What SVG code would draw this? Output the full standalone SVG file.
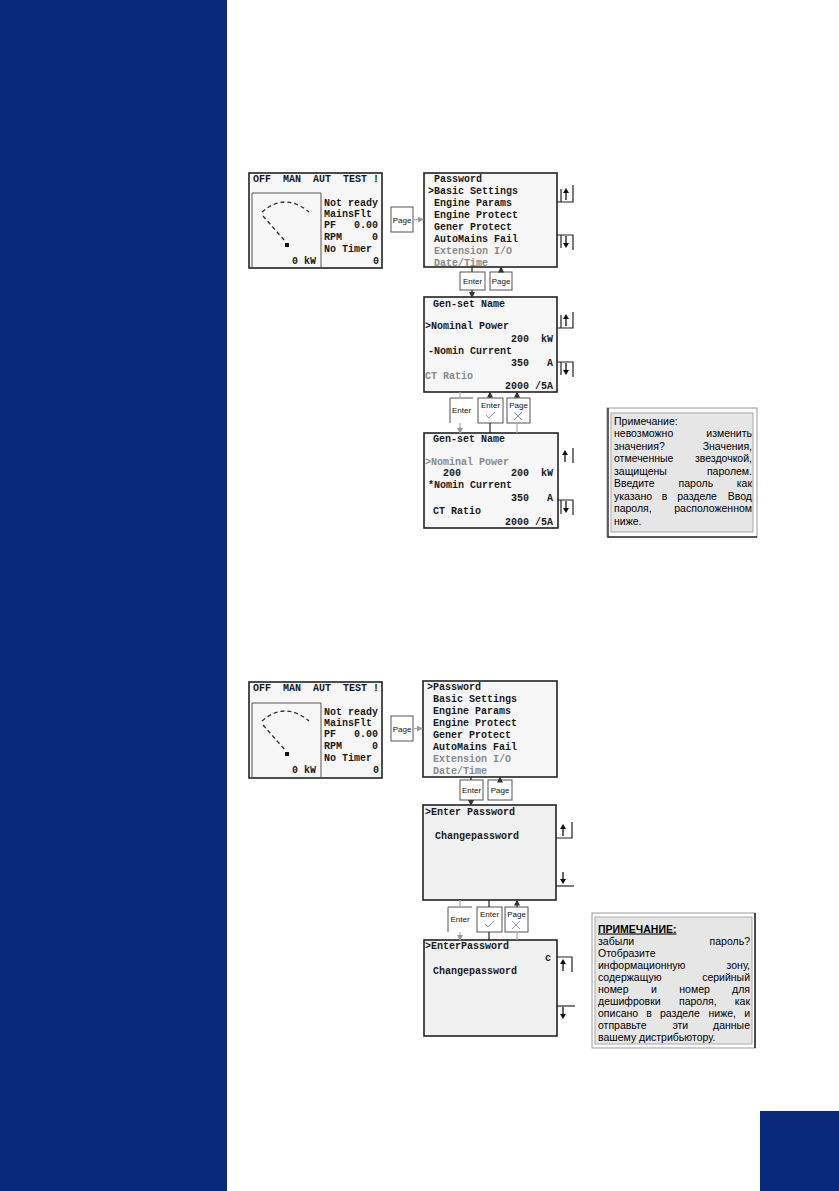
<svg xmlns="http://www.w3.org/2000/svg" width="839" height="1191" viewBox="0 0 839 1191">
<style>
.lcd{font-family:"Liberation Mono","DejaVu Sans Mono",monospace;font-size:10px;font-weight:bold;fill:#1a1a1a;white-space:pre}
.lcdg{font-family:"Liberation Mono","DejaVu Sans Mono",monospace;font-size:10px;font-weight:bold;fill:#8a8a8a;white-space:pre}
.btn{font-family:"Liberation Sans",Arial,sans-serif;font-size:8px;fill:#111}
.note{font-family:"Liberation Sans","DejaVu Sans",Arial,sans-serif;font-size:10.5px;fill:#000}
.e{text-anchor:end}
.scr{fill:#f7f7f7;stroke:#222;stroke-width:1.6}
.scr2{fill:#f0f0f0;stroke:#222;stroke-width:1.6}
.box{fill:#fff;stroke:#555;stroke-width:1}
.ln{stroke:#222;stroke-width:1.2;fill:none}
.lg{stroke:#aaa;stroke-width:1.2;fill:none}
.dash{stroke:#333;stroke-width:1.3;fill:none;stroke-dasharray:4 3}
</style>
<defs>
<marker id="ah" viewBox="0 0 6 6" refX="5" refY="3" markerWidth="5" markerHeight="5" orient="auto">
<path d="M0,0 L6,3 L0,6 Z" fill="#333"/>
</marker>
<marker id="ahg" viewBox="0 0 6 6" refX="5" refY="3" markerWidth="5" markerHeight="5" orient="auto">
<path d="M0,0 L6,3 L0,6 Z" fill="#999"/>
</marker>
<g id="arrUp"><path d="M0,-6 L3,-1 L-3,-1 Z" fill="#111"/><path d="M0,-1 V6" stroke="#111" stroke-width="1.3"/></g>
<g id="arrDown"><path d="M0,6 L3,1 L-3,1 Z" fill="#111"/><path d="M0,1 V-6" stroke="#111" stroke-width="1.3"/></g>
</defs>

<rect x="0" y="0" width="227" height="1191" fill="#0a297a"/>
<rect x="760" y="1111" width="79" height="80" fill="#0a297a"/>

<!-- top main screen -->
<g id="main1">
<rect class="scr" x="249" y="173" width="133" height="95"/>
<text class="lcd" x="253" y="182">OFF  MAN  AUT  TEST !</text>
<path d="M252,268 V193 H321 V268" fill="none" stroke="#555" stroke-width="1"/>
<path class="dash" d="M262,212 Q285,192 309,212"/>
<path class="dash" d="M263,216 L285,241"/>
<rect x="285" y="243" width="4" height="4" fill="#111"/>
<text class="lcd" x="292" y="264">0 kW</text>
<text class="lcd" x="324" y="206">Not ready</text>
<text class="lcd" x="324" y="217">MainsFlt</text>
<text class="lcd" x="324" y="228">PF   0.00</text>
<text class="lcd" x="324" y="240">RPM     0</text>
<text class="lcd" x="324" y="252">No Timer</text>
<text class="lcd" x="379" y="264" text-anchor="end">0</text>
</g>

<g id="page1">
<rect class="box" x="391" y="207" width="22" height="25"/>
<text class="btn" x="402" y="222.5" text-anchor="middle">Page</text>
</g>

<g id="menu1">
<rect class="scr" x="424" y="173" width="133" height="94"/>
<text class="lcd" x="428" y="181.5"> Password</text>
<text class="lcd" x="428" y="193.5">&gt;Basic Settings</text>
<text class="lcd" x="428" y="205.5"> Engine Params</text>
<text class="lcd" x="428" y="217.5"> Engine Protect</text>
<text class="lcd" x="428" y="229.5"> Gener Protect</text>
<text class="lcd" x="428" y="241.5"> AutoMains Fail</text>
<text class="lcdg" x="428" y="253.5"> Extension I/O</text>
<text class="lcdg" x="428" y="265.5"> Date/Time</text>
<path class="ln" d="M557,202 H573 V185 M561,189 V202"/>
<use href="#arrUp" x="566" y="194"/>
<path class="ln" d="M557,235 H573 V250 M561,235 V248"/>
<use href="#arrDown" x="566" y="242"/>
</g>

<g id="enter1">
<rect class="box" x="460" y="272" width="25" height="18"/>
<text class="btn" x="472.5" y="284" text-anchor="middle">Enter</text>
</g>
<g id="pageA">
<rect class="box" x="490" y="272" width="22" height="18"/>
<text class="btn" x="501" y="284" text-anchor="middle">Page</text>
</g>

<g id="screen2">
<rect class="scr" x="424" y="297" width="133" height="95"/>
<text class="lcd" x="433" y="306.5">Gen-set Name</text>
<text class="lcd" x="425" y="328.5">&gt;Nominal Power</text>
<text class="lcd" x="553" y="341.5" text-anchor="end">200  kW</text>
<text class="lcd" x="428" y="353.5">-Nomin Current</text>
<text class="lcd" x="553" y="366" text-anchor="end">350   A</text>
<text class="lcdg" x="425" y="378.5">CT Ratio</text>
<text class="lcd" x="553" y="388.5" text-anchor="end">2000 /5A</text>
<path class="ln" d="M557,328 H573 V312 M561,315 V328"/>
<use href="#arrUp" x="566" y="320"/>
<path class="ln" d="M557,362 H573 V377 M561,362 V375"/>
<use href="#arrDown" x="566" y="369"/>
</g>

<g id="enter2">
<path d="M450,423 V398 H473" fill="none" stroke="#555" stroke-width="1"/>
<text class="btn" x="461.5" y="413" text-anchor="middle">Enter</text>
</g>
<g id="enterOk1">
<rect class="box" x="478" y="398" width="25" height="25"/>
<text class="btn" x="490.5" y="408" text-anchor="middle">Enter</text>
<path d="M486,415 L489,418 L495,412" fill="none" stroke="#999" stroke-width="1"/>
</g>
<g id="pageX1">
<rect class="box" x="507" y="398" width="23" height="25"/>
<text class="btn" x="518.5" y="408" text-anchor="middle">Page</text>
<path d="M514,412 L522,420 M522,412 L514,420" fill="none" stroke="#999" stroke-width="1"/>
</g>

<g id="screen3">
<rect class="scr" x="424" y="433" width="134" height="95"/>
<text class="lcd" x="433" y="441.5">Gen-set Name</text>
<text class="lcdg" x="425" y="465">&gt;Nominal Power</text>
<text class="lcd" x="443" y="476">200</text>
<text class="lcd" x="553" y="476" text-anchor="end">200  kW</text>
<text class="lcd" x="428" y="487.5">*Nomin Current</text>
<text class="lcd" x="553" y="501" text-anchor="end">350   A</text>
<text class="lcd" x="433" y="514">CT Ratio</text>
<text class="lcd" x="553" y="525" text-anchor="end">2000 /5A</text>
<path class="ln" d="M573,448 V463"/>
<use href="#arrUp" x="565" y="456"/>
<path class="ln" d="M558,500 H573 V515 M561,500 V514"/>
<use href="#arrDown" x="566" y="507"/>
</g>

<g id="note1">
<rect x="607" y="408" width="150" height="129" fill="#fff" stroke="#999" stroke-width="1"/>
<path d="M608,408 V537 H757" fill="none" stroke="#333" stroke-width="1.5"/>
<rect x="611" y="413" width="142" height="119" fill="#e6e6e6" stroke="#aaa" stroke-width="1"/>
<text class="note" x="614" y="424.5">Примечание:</text>
<text class="note" y="437"><tspan x="614">невозможно</tspan><tspan class="e" x="752">изменить</tspan></text>
<text class="note" y="449.5"><tspan x="614">значения?</tspan><tspan class="e" x="752">Значения,</tspan></text>
<text class="note" y="462"><tspan x="614">отмеченные</tspan><tspan class="e" x="752">звездочкой,</tspan></text>
<text class="note" y="474.5"><tspan x="614">защищены</tspan><tspan class="e" x="752">паролем.</tspan></text>
<text class="note" y="487"><tspan x="614">Введите</tspan><tspan x="678.6">пароль</tspan><tspan class="e" x="752">как</tspan></text>
<text class="note" y="499.5"><tspan x="614">указано</tspan><tspan x="661.8">в</tspan><tspan x="677.2">разделе</tspan><tspan class="e" x="752">Ввод</tspan></text>
<text class="note" y="512"><tspan x="614">пароля,</tspan><tspan class="e" x="752">расположенном</tspan></text>
<text class="note" x="614" y="524.5">ниже.</text>
</g>

<!-- bottom section -->
<g id="main2">
<rect class="scr" x="249" y="682" width="133" height="96"/>
<text class="lcd" x="253" y="691">OFF  MAN  AUT  TEST !</text>
<path d="M252,778 V703 H321 V778" fill="none" stroke="#555" stroke-width="1"/>
<path class="dash" d="M262,721 Q285,701 309,721"/>
<path class="dash" d="M263,725 L285,750"/>
<rect x="285" y="752" width="4" height="4" fill="#111"/>
<text class="lcd" x="292" y="773">0 kW</text>
<text class="lcd" x="324" y="715">Not ready</text>
<text class="lcd" x="324" y="726">MainsFlt</text>
<text class="lcd" x="324" y="737">PF   0.00</text>
<text class="lcd" x="324" y="749">RPM     0</text>
<text class="lcd" x="324" y="761">No Timer</text>
<text class="lcd" x="379" y="773" text-anchor="end">0</text>
</g>

<g id="page2">
<rect class="box" x="391" y="716" width="22" height="25"/>
<text class="btn" x="402" y="731.5" text-anchor="middle">Page</text>
</g>

<g id="menu2">
<rect class="scr" x="423" y="681" width="134" height="96"/>
<text class="lcd" x="427" y="689.5">&gt;Password</text>
<text class="lcd" x="427" y="701.5"> Basic Settings</text>
<text class="lcd" x="427" y="713.5"> Engine Params</text>
<text class="lcd" x="427" y="725.5"> Engine Protect</text>
<text class="lcd" x="427" y="737.5"> Gener Protect</text>
<text class="lcd" x="427" y="749.5"> AutoMains Fail</text>
<text class="lcdg" x="427" y="761.5"> Extension I/O</text>
<text class="lcdg" x="427" y="773.5"> Date/Time</text>
</g>

<g id="enter3">
<rect class="box" x="460" y="780" width="23" height="20"/>
<text class="btn" x="471.5" y="793" text-anchor="middle">Enter</text>
</g>
<g id="pageB">
<rect class="box" x="488" y="780" width="24" height="20"/>
<text class="btn" x="500" y="793" text-anchor="middle">Page</text>
</g>

<g id="screen4">
<rect class="scr2" x="423" y="805" width="133" height="95"/>
<text class="lcd" x="425" y="814.5">&gt;Enter Password</text>
<text class="lcd" x="435" y="838.5">Changepassword</text>
<path class="ln" d="M556,838 H572 V822"/>
<use href="#arrUp" x="563" y="830"/>
<path class="ln" d="M556,886 H574"/>
<use href="#arrDown" x="563" y="878"/>
</g>

<g id="enter4">
<path d="M448,932 V907 H472" fill="none" stroke="#555" stroke-width="1"/>
<text class="btn" x="460" y="922" text-anchor="middle">Enter</text>
</g>
<g id="enterOk2">
<rect class="box" x="477" y="907" width="25" height="25"/>
<text class="btn" x="489.5" y="917" text-anchor="middle">Enter</text>
<path d="M485,924 L488,927 L494,921" fill="none" stroke="#999" stroke-width="1"/>
</g>
<g id="pageX2">
<rect class="box" x="505" y="907" width="23" height="25"/>
<text class="btn" x="516.5" y="917" text-anchor="middle">Page</text>
<path d="M512,921 L520,929 M520,921 L512,929" fill="none" stroke="#999" stroke-width="1"/>
</g>

<g id="screen5">
<rect class="scr2" x="424" y="940" width="133" height="96"/>
<text class="lcd" x="425" y="948.5">&gt;EnterPassword</text>
<text class="lcd" x="545" y="961">c</text>
<text class="lcd" x="433" y="973.5">Changepassword</text>
<path class="ln" d="M557,957 H572 V972"/>
<use href="#arrUp" x="563" y="965"/>
<path class="ln" d="M557,1006 H575"/>
<use href="#arrDown" x="563" y="1013"/>
</g>

<g id="note2">
<rect x="592" y="913" width="163" height="135" fill="#fff" stroke="#999" stroke-width="1"/>
<path d="M755,913 V1048" fill="none" stroke="#222" stroke-width="1.5"/>
<rect x="595" y="917" width="157" height="127" fill="#e6e6e6" stroke="#aaa" stroke-width="1"/>
<text class="note" x="598" y="932.5" text-decoration="underline" font-weight="bold">ПРИМЕЧАНИЕ:</text>
<text class="note" y="944.5"><tspan x="598">забыли</tspan><tspan class="e" x="750">пароль?</tspan></text>
<text class="note" x="598" y="956.5">Отобразите</text>
<text class="note" y="968.5"><tspan x="598">информационную</tspan><tspan class="e" x="750">зону,</tspan></text>
<text class="note" y="980.5"><tspan x="598">содержащую</tspan><tspan class="e" x="750">серийный</tspan></text>
<text class="note" y="992.5"><tspan x="598">номер</tspan><tspan x="651">и</tspan><tspan x="679.3">номер</tspan><tspan class="e" x="750">для</tspan></text>
<text class="note" y="1004.5"><tspan x="598">дешифровки</tspan><tspan x="679">пароля,</tspan><tspan class="e" x="750">как</tspan></text>
<text class="note" y="1016.5"><tspan x="598">описано</tspan><tspan x="646.3">в</tspan><tspan x="660">разделе</tspan><tspan x="708.5">ниже,</tspan><tspan class="e" x="750">и</tspan></text>
<text class="note" y="1028.5"><tspan x="598">отправьте</tspan><tspan x="672.4">эти</tspan><tspan class="e" x="750">данные</tspan></text>
<text class="note" x="598" y="1040.5">вашему дистрибьютору.</text>
</g>

<g id="connectors">
<path class="lg" d="M413,219.5 H423" marker-end="url(#ahg)"/>
<path class="ln" d="M472,267 V272"/>
<path class="ln" d="M472,290 V297" marker-end="url(#ah)"/>
<path class="ln" d="M501,272 V267.5" marker-end="url(#ah)"/>
<path class="lg" d="M460,392 V398"/>
<path class="lg" d="M460,423 V433" marker-end="url(#ahg)"/>
<path class="ln" d="M490,398 V392.5" marker-end="url(#ah)"/>
<path class="ln" d="M490,423 V433"/>
<path class="ln" d="M517,398 V392.5" marker-end="url(#ah)"/>
<path class="lg" d="M517,423 V433"/>
<path class="lg" d="M413,728.5 H422" marker-end="url(#ahg)"/>
<path class="ln" d="M471,777 V780"/>
<path class="ln" d="M471,800 V805" marker-end="url(#ah)"/>
<path class="ln" d="M500,780 V777.5" marker-end="url(#ah)"/>
<path class="lg" d="M460,900 V907"/>
<path class="ln" d="M489,900 V907"/>
<path class="ln" d="M517,907 V900.5" marker-end="url(#ah)"/>
<path class="lg" d="M460,932 V940" marker-end="url(#ahg)"/>
<path class="ln" d="M489,932 V940"/>
<path class="lg" d="M517,932 V940"/>
</g>
</svg>
